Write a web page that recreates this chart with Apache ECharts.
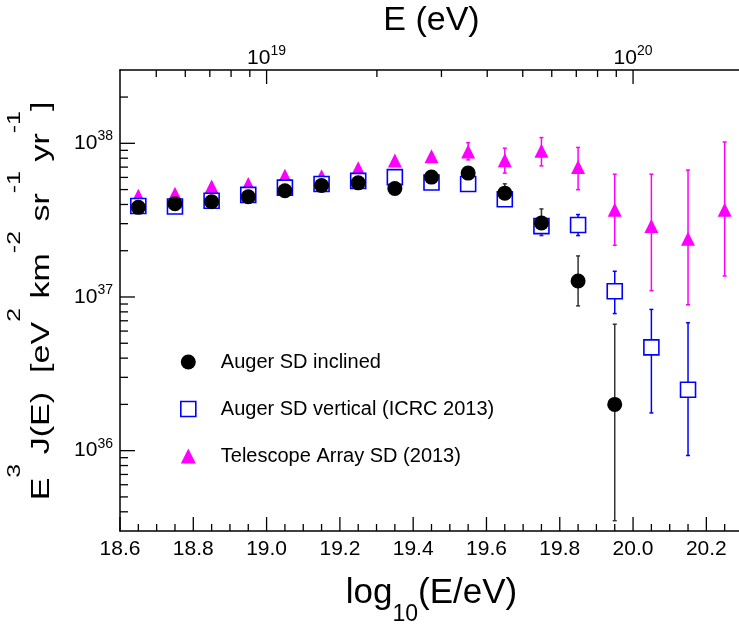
<!DOCTYPE html>
<html>
<head>
<meta charset="utf-8">
<script src="https://cdn.jsdelivr.net/npm/echarts@6/dist/echarts.min.js"></script>
<style>
html,body{margin:0;padding:0;background:#fff;}
#chart{width:739px;height:626px;}
</style>
</head>
<body>
<div id="chart"></div>
<script>
// ---------------- data ----------------
const inclinedLog10E = [18.65,18.75,18.85,18.95,19.05,19.15,19.25,19.35,19.45,19.55,19.65,19.75,19.85,19.95];
const inclinedFlux   = [3.83e37,4.05e37,4.17e37,4.49e37,4.91e37,5.31e37,5.53e37,5.08e37,6.03e37,6.40e37,4.74e37,3.03e37,1.27e37,2.0e36];
const inclinedLow    = [null,null,null,null,null,null,null,null,null,null,4.12e37,2.51e37,8.75e36,3.5e35];
const inclinedHigh   = [null,null,null,null,null,null,null,null,null,null,5.45e37,3.74e37,1.85e37,6.65e36];

const verticalLog10E = [18.65,18.75,18.85,18.95,19.05,19.15,19.25,19.35,19.45,19.55,19.65,19.75,19.85,19.95,20.05,20.15];
const verticalFlux   = [3.91e37,3.88e37,4.23e37,4.62e37,5.15e37,5.44e37,5.70e37,6.03e37,5.56e37,5.44e37,4.33e37,2.89e37,2.94e37,1.09e37,4.7e36,2.49e36];
const verticalLow    = [null,null,null,null,null,null,null,null,null,null,null,null,2.51e37,7.8e36,1.76e36,9.3e35];
const verticalHigh   = [null,null,null,null,null,null,null,null,null,null,null,null,3.44e37,1.47e37,8.3e36,6.8e36];

const taLog10E = [18.65,18.75,18.85,18.95,19.05,19.15,19.25,19.35,19.45,19.55,19.65,19.75,19.85,19.95,20.05,20.15,20.25];
const taFlux   = [4.56e37,4.70e37,5.24e37,5.44e37,6.14e37,6.1e37,6.89e37,7.72e37,8.24e37,8.83e37,7.76e37,8.96e37,7.0e37,3.70e37,2.90e37,2.39e37,3.70e37];
const taLow    = [null,null,null,null,null,null,null,null,null,7.8e37,6.4e37,7.13e37,4.99e37,2.17e37,1.1e37,8.9e36,1.37e37];
const taHigh   = [null,null,null,null,null,null,null,null,null,1.01e38,9.3e37,1.09e38,9.4e37,6.3e37,6.3e37,6.7e37,1.02e38];

const seriesNames = ['Auger SD inclined','Auger SD vertical (ICRC 2013)','Telescope Array SD (2013)'];

// axis ticks / labels
const log10ETickLabels = ['18.6','18.8','19.0','19.2','19.4','19.6','19.8','20.0','20.2'];
const log10EMajorTicks = [18.6,18.8,19.0,19.2,19.4,19.6,19.8,20.0,20.2];
const log10EMinorTicks = [18.65,18.7,18.75,18.85,18.9,18.95,19.05,19.1,19.15,19.25,19.3,19.35,19.45,19.5,19.55,19.65,19.7,19.75,19.85,19.9,19.95,20.05,20.1,20.15,20.25];
const energyMajorTicks = [1e19,1e20];
const energyMinorTicks = [5e18,6e18,7e18,8e18,9e18,2e19,3e19,4e19,5e19,6e19,7e19,8e19,9e19];
const fluxMajorTicks = [1e36,1e37,1e38];
const fluxMinorTicks = [4e35,5e35,6e35,7e35,8e35,9e35,2e36,3e36,4e36,5e36,6e36,7e36,8e36,9e36,2e37,3e37,4e37,5e37,6e37,7e37,8e37,9e37,2e38];

const log10EMin = 18.6, log10EMax = 20.3;
const fluxMin = 3e35, fluxMax = 3e38;

const yTitleRich = '{n|E}{p|3}{n| J(E)  [eV}{p|2}{n| km}{p|-2}{n| sr}{p|-1}{n| yr}{p|-1}{n|]}';

// ---------------- helpers ----------------
const FONT = "'Liberation Sans', Arial, Helvetica, sans-serif";
const REF_Y = 1e37;

function pairs(xs, ys) { return xs.map((x, i) => [x, ys[i]]); }

function errorSeries(xs, lows, highs, color) {
  const data = [];
  xs.forEach((x, i) => { if (lows[i] != null) data.push([x, lows[i], highs[i]]); });
  return {
    type: 'custom', name: 'err', coordinateSystem: 'cartesian2d',
    xAxisIndex: 0, yAxisIndex: 0, silent: true, clip: false,
    encode: { x: 0, y: [1, 2] },
    data: data,
    renderItem: function (params, api) {
      const lo = api.coord([api.value(0), api.value(1)]);
      const hi = api.coord([api.value(0), api.value(2)]);
      const c = 2;
      const st = { stroke: color, lineWidth: 1.5 };
      return { type: 'group', children: [
        { type: 'line', shape: { x1: lo[0], y1: lo[1], x2: hi[0], y2: hi[1] }, style: st },
        { type: 'line', shape: { x1: lo[0] - c, y1: lo[1], x2: lo[0] + c, y2: lo[1] }, style: st },
        { type: 'line', shape: { x1: hi[0] - c, y1: hi[1], x2: hi[0] + c, y2: hi[1] }, style: st }
      ]};
    }
  };
}

function tickSeries(side, values, len) {
  const onTop = side === 'top';
  return {
    type: 'custom', name: 'tick', coordinateSystem: 'cartesian2d',
    xAxisIndex: onTop ? 1 : 0, yAxisIndex: 0, silent: true, clip: false, z: 5,
    data: values.map(v => side === 'left' ? [log10EMin, v] : [v, REF_Y]),
    renderItem: function (params, api) {
      const cs = params.coordSys;
      const p = api.coord([api.value(0), api.value(1)]);
      let shape;
      if (side === 'left') shape = { x1: cs.x, y1: p[1], x2: cs.x + len, y2: p[1] };
      else if (side === 'top') shape = { x1: p[0], y1: cs.y, x2: p[0], y2: cs.y + len };
      else shape = { x1: p[0], y1: cs.y + cs.height, x2: p[0], y2: cs.y + cs.height - len };
      return { type: 'line', shape: shape, style: { stroke: '#000', lineWidth: 1.3 } };
    }
  };
}

function isPow10(v) {
  const l = Math.log10(v);
  return Math.abs(l - Math.round(l)) < 1e-6;
}

const powRich = {
  b: { fontSize: 21, lineHeight: 28, fontFamily: FONT, color: '#000' },
  s: { fontSize: 14, lineHeight: 14, verticalAlign: 'top', fontFamily: FONT, color: '#000' }
};
function powLabel(v) {
  if (!isPow10(v)) return '';
  return '{b|10}{s|' + Math.round(Math.log10(v)) + '}';
}

// ---------------- chart ----------------
const chart = echarts.init(document.getElementById('chart'), null, { renderer: 'canvas' });

const option = {
  backgroundColor: '#fff',
  animation: false,
  grid: { left: 120, top: 70, width: 623, height: 461, containLabel: false, outerBoundsMode: 'none' },
  graphic: {
    elements: [{
      type: 'text', x: 30, y: 301, rotation: Math.PI / 2, scaleX: 1.31, scaleY: 1, silent: true,
      style: {
        text: yTitleRich, align: 'center', verticalAlign: 'middle',
        rich: {
          n: { fontSize: 26, lineHeight: 50, verticalAlign: 'bottom', fontFamily: FONT, fill: '#000' },
          p: { fontSize: 19, lineHeight: 19, verticalAlign: 'top', fontFamily: FONT, fill: '#000' }
        }
      }
    }]
  },
  legend: {
    orient: 'vertical', left: 175, top: 345,
    itemWidth: 15, itemHeight: 15, itemGap: 23,
    selectedMode: false,
    textStyle: { fontSize: 20, color: '#000', fontFamily: FONT, lineHeight: 24, padding: [0, 0, 0, 20] },
    data: [
      { name: seriesNames[0], icon: 'circle', itemStyle: { color: '#000' } },
      { name: seriesNames[1], icon: 'rect', itemStyle: { color: '#fff', borderColor: '#0000ff', borderWidth: 1.6 } },
      { name: seriesNames[2], icon: 'triangle', itemStyle: { color: '#ff00ff' } }
    ]
  },
  xAxis: [
    {
      type: 'value', position: 'bottom', min: log10EMin, max: log10EMax, interval: 0.2,
      axisLine: { lineStyle: { color: '#000', width: 1.5 } },
      axisTick: { show: false }, splitLine: { show: false },
      axisLabel: {
        margin: 6, fontSize: 21, lineHeight: 24, color: '#000', fontFamily: FONT,
        formatter: function (v) {
          const i = log10EMajorTicks.findIndex(t => Math.abs(t - v) < 1e-6);
          return i >= 0 ? log10ETickLabels[i] : '';
        }
      },
      name: '{n|log}{s|10}{n|(E/eV)}', nameLocation: 'middle', nameGap: 45,
      nameTextStyle: {
        rich: {
          n: { fontSize: 35, lineHeight: 35, verticalAlign: 'top', fontFamily: FONT, color: '#000' },
          s: { fontSize: 23, lineHeight: 50, verticalAlign: 'bottom', fontFamily: FONT, color: '#000' }
        }
      }
    },
    {
      type: 'log', logBase: 10, position: 'top',
      min: Math.pow(10, log10EMin), max: Math.pow(10, log10EMax),
      axisLine: { lineStyle: { color: '#000', width: 1.5 } },
      axisTick: { show: false }, splitLine: { show: false },
      axisLabel: { margin: -2, formatter: powLabel, rich: powRich },
      name: 'E (eV)', nameLocation: 'middle', nameGap: 32,
      nameTextStyle: { fontSize: 34, lineHeight: 34, fontFamily: FONT, color: '#000' }
    }
  ],
  yAxis: [
    {
      type: 'log', logBase: 10, position: 'left', min: fluxMin, max: fluxMax,
      axisLine: { lineStyle: { color: '#000', width: 1.5 } },
      axisTick: { show: false }, splitLine: { show: false },
      axisLabel: { margin: 7, formatter: powLabel, rich: powRich }
    }
  ],
  series: [
    tickSeries('bottom', log10EMajorTicks, 14),
    tickSeries('bottom', log10EMinorTicks, 7),
    tickSeries('top', energyMajorTicks, 14),
    tickSeries('top', energyMinorTicks, 7),
    tickSeries('left', fluxMajorTicks, 15),
    tickSeries('left', fluxMinorTicks, 8),

    errorSeries(taLog10E, taLow, taHigh, '#ff00ff'),
    {
      type: 'scatter', name: seriesNames[2], xAxisIndex: 0, yAxisIndex: 0,
      symbol: 'triangle', symbolSize: 14,
      itemStyle: { color: '#ff00ff', opacity: 1 },
      data: pairs(taLog10E, taFlux)
    },
    errorSeries(verticalLog10E, verticalLow, verticalHigh, '#0000ff'),
    {
      type: 'scatter', name: seriesNames[1], xAxisIndex: 0, yAxisIndex: 0,
      symbol: 'rect', symbolSize: 15,
      itemStyle: { color: '#fff', borderColor: '#0000ff', borderWidth: 1.6, opacity: 1 },
      data: pairs(verticalLog10E, verticalFlux)
    },
    errorSeries(inclinedLog10E, inclinedLow, inclinedHigh, '#333'),
    {
      type: 'scatter', name: seriesNames[0], xAxisIndex: 0, yAxisIndex: 0,
      symbol: 'circle', symbolSize: 15,
      itemStyle: { color: '#000', opacity: 1 },
      data: pairs(inclinedLog10E, inclinedFlux)
    }
  ]
};

chart.setOption(option);
</script>
</body>
</html>
